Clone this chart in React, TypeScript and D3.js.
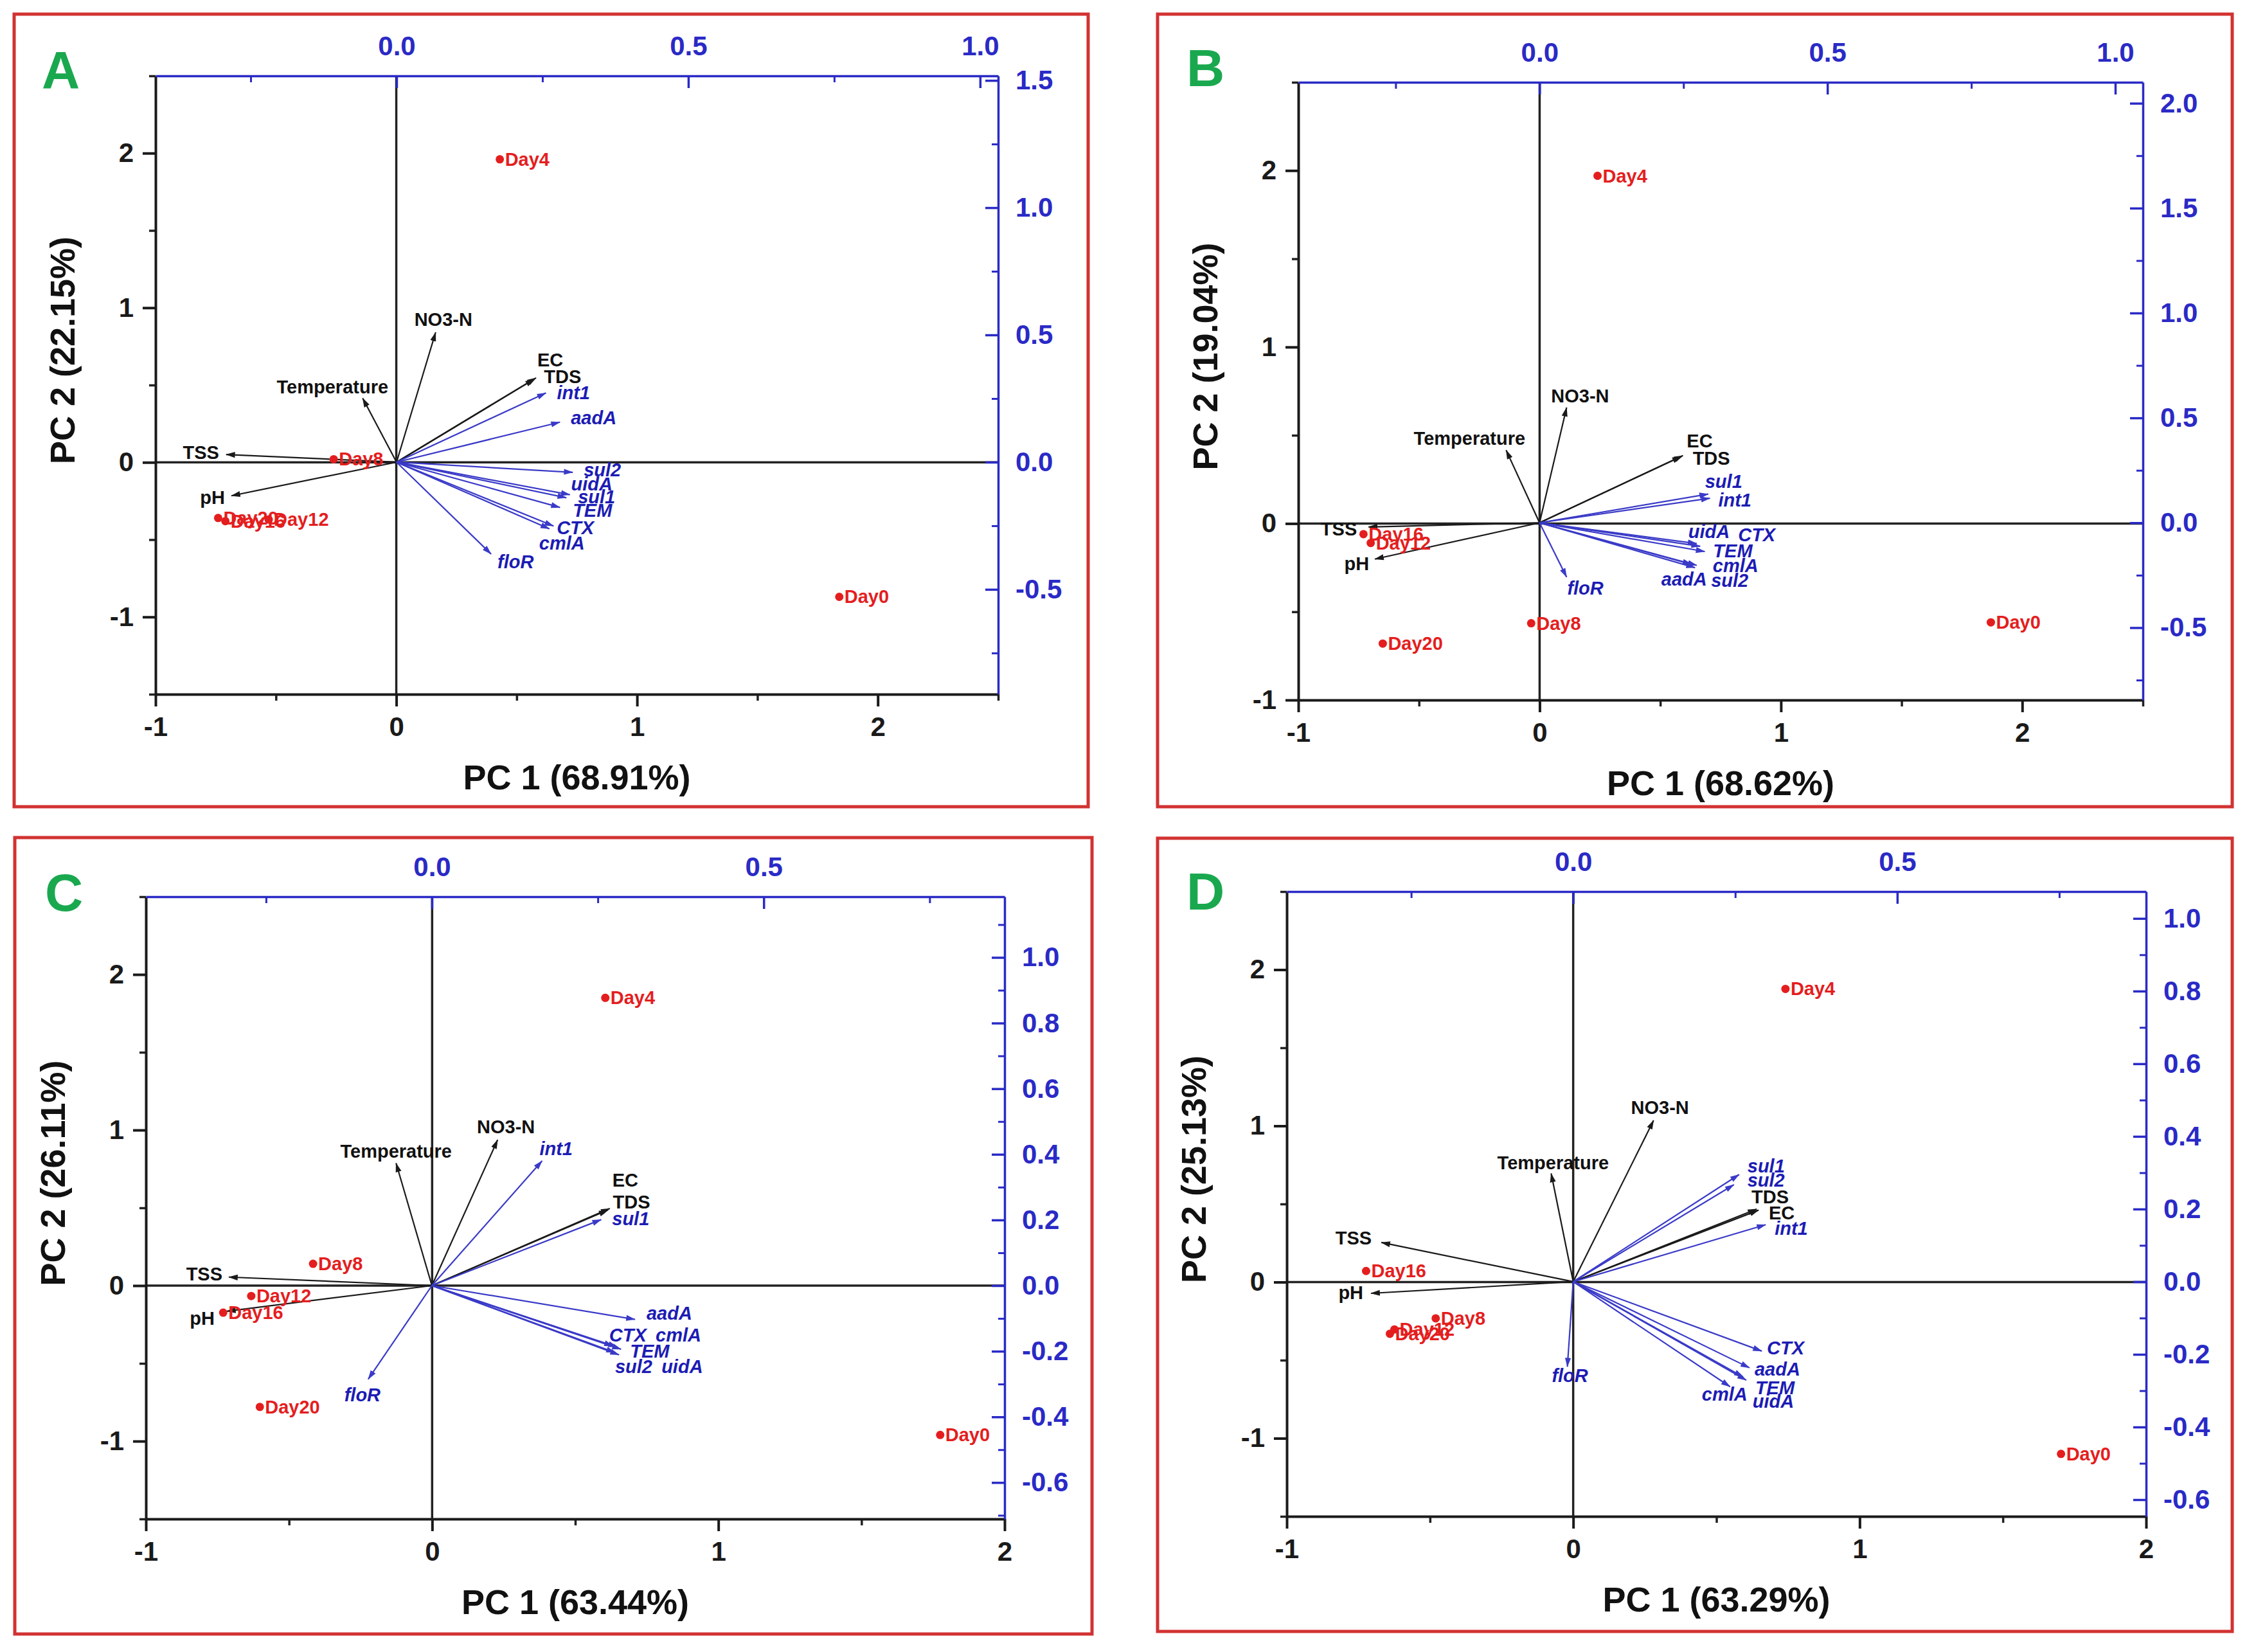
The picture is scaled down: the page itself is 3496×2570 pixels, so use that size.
import { useEffect, useRef } from 'react'
import * as d3 from 'd3'

// categories
const days = ['Day0', 'Day4', 'Day8', 'Day12', 'Day16', 'Day20']
const envVars = ['Temperature', 'NO3-N', 'TSS', 'pH', 'EC', 'TDS']
const genes = ['int1', 'sul1', 'sul2', 'aadA', 'uidA', 'TEM', 'CTX', 'cmlA', 'floR']

const panelLetters = ['A', 'B', 'C', 'D']
const pc1Titles = ['PC 1 (68.91%)', 'PC 1 (68.62%)', 'PC 1 (63.44%)', 'PC 1 (63.29%)']
const pc2Titles = ['PC 2 (22.15%)', 'PC 2 (19.04%)', 'PC 2 (26.11%)', 'PC 2 (25.13%)']

// sample scores [PC1, PC2], in order of days
const scoresA = [[1.84, -0.87], [0.43, 1.96], [-0.26, 0.02], [-0.53, -0.37], [-0.71, -0.38], [-0.74, -0.36]]
const scoresB = [[1.87, -0.56], [0.24, 1.97], [-0.035, -0.565], [-0.70, -0.11], [-0.73, -0.06], [-0.65, -0.68]]
const scoresC = [[1.775, -0.96], [0.605, 1.85], [-0.416, 0.14], [-0.632, -0.067], [-0.73, -0.174], [-0.602, -0.78]]
const scoresD = [[1.703, -1.10], [0.741, 1.877], [-0.48, -0.232], [-0.624, -0.303], [-0.723, 0.071], [-0.64, -0.331]]

// loadings [PC1, PC2], in order of envVars
const envLoadA = [[-0.058, 0.251], [0.067, 0.51], [-0.292, 0.03], [-0.283, -0.132], [0.239, 0.331], [0.236, 0.326]]
const envLoadB = [[-0.058, 0.346], [0.047, 0.549], [-0.297, -0.02], [-0.286, -0.173], [0.249, 0.32], [0.246, 0.316]]
const envLoadC = [[-0.054, 0.373], [0.099, 0.444], [-0.306, 0.026], [-0.309, -0.078], [0.268, 0.235], [0.265, 0.23]]
const envLoadD = [[-0.034, 0.298], [0.124, 0.444], [-0.296, 0.108], [-0.312, -0.032], [0.286, 0.197], [0.283, 0.2]]

// loadings [PC1, PC2], in order of genes
const geneLoadA = [[0.256, 0.272], [0.291, -0.14], [0.302, -0.04], [0.28, 0.157], [0.297, -0.128], [0.28, -0.178], [0.269, -0.251], [0.262, -0.262], [0.162, -0.361]]
const geneLoadB = [[0.296, 0.117], [0.293, 0.137], [0.27, -0.214], [0.264, -0.198], [0.273, -0.099], [0.287, -0.137], [0.279, -0.112], [0.273, -0.203], [0.047, -0.259]]
const geneLoadC = [[0.166, 0.38], [0.255, 0.201], [0.276, -0.204], [0.306, -0.103], [0.282, -0.211], [0.285, -0.194], [0.273, -0.184], [0.279, -0.187], [-0.096, -0.285]]
const geneLoadD = [[0.297, 0.157], [0.256, 0.295], [0.248, 0.267], [0.272, -0.237], [0.262, -0.262], [0.267, -0.271], [0.291, -0.191], [0.242, -0.289], [-0.009, -0.234]]

// axis ranges and tick labels
const pc1DomainAB = [-1, 2.5]
const pc1DomainCD = [-1, 2]
const pc2DomainA = [-1.5, 2.5]
const pc2DomainB = [-1, 2.5]
const pc2DomainCD = [-1.5, 2.5]
const loadXDomains = [[-0.413, 1.031], [-0.419, 1.048], [-0.431, 0.863], [-0.442, 0.884]]
const loadYDomains = [[-0.912, 1.518], [-0.845, 2.1], [-0.711, 1.185], [-0.646, 1.074]]

const scoreTicks = [-1, 0, 1, 2]
const topTicksAB = [0, 0.5, 1.0]
const topTicksCD = [0, 0.5]
const rightTicksA = [-0.5, 0, 0.5, 1.0, 1.5]
const rightTicksB = [-0.5, 0, 0.5, 1.0, 1.5, 2.0]
const rightTicksCD = [-0.6, -0.4, -0.2, 0, 0.2, 0.4, 0.6, 0.8, 1.0]

// layout (pixels): border box, plot frame, letter position
const layout = [
  { border: [22, 22, 1693, 1255], frame: [242, 118, 1553, 1080], letter: [65, 137] },
  { border: [1801, 22, 3473, 1255], frame: [2020, 128, 3334, 1089], letter: [1846, 134] },
  { border: [23, 1303, 1699, 2542], frame: [227, 1395, 1563, 2363], letter: [70, 1417] },
  { border: [1801, 1304, 3473, 2538], frame: [2002, 1387, 3339, 2359], letter: [1846, 1415] },
]

// label nudges from arrow tip: [dx, dy, anchor]
type Nudge = [number, number, string?]
const nudges: Record<string, Nudge>[] = [
  {
    'NO3-N': [12, -10, 'middle'], Temperature: [-47, -8, 'middle'], EC: [2, -18], TDS: [15, 6],
    int1: [17, 10], aadA: [17, 3], sul2: [17, 6], uidA: [2, -7], sul1: [18, 9], TEM: [20, 15],
    CTX: [5, 13], cmlA: [-16, 32], floR: [10, 22], TSS: [-11, 7, 'end'], pH: [-10, 13, 'end'],
  },
  {
    'NO3-N': [21, -8, 'middle'], Temperature: [-57, -8, 'middle'], EC: [6, -13], TDS: [18, 13],
    sul1: [-5, -10], int1: [13, 13], uidA: [-13, -9], CTX: [59, -8], TEM: [13, 9], cmlA: [25, 10],
    aadA: [24, 33, 'end'], sul2: [25, 30], floR: [1, 27], TSS: [-18, 13, 'end'], pH: [-9, 17, 'end'],
  },
  {
    'NO3-N': [13, -10, 'middle'], Temperature: [0, -9, 'middle'], int1: [-4, -9], EC: [4, -34],
    TDS: [8, -3], sul1: [17, 9], aadA: [18, 0], CTX: [-6, -7], cmlA: [60, -8], TEM: [14, 13],
    sul2: [0, 32], uidA: [66, 28], floR: [-9, 34, 'middle'], TSS: [-10, 5, 'end'], pH: [-19, 21, 'end'],
  },
  {
    'NO3-N': [10, -10, 'middle'], Temperature: [3, -7, 'middle'], sul1: [13, -3], sul2: [21, 3],
    TDS: [-8, -9], EC: [16, 14], int1: [14, 16], TSS: [-15, 3, 'end'], pH: [-12, 9, 'end'],
    CTX: [8, 5], aadA: [8, 12], TEM: [14, 22], uidA: [15, 48], cmlA: [27, 22, 'end'], floR: [4, 24, 'middle'],
  },
]

const FONT = '"Liberation Sans", Arial, sans-serif'
const RED = '#e41e1e'
const FRAME_RED = '#d23232'
const GREEN = '#1aa84f'
const BLUE_AXIS = '#2a2ac6'
const BLUE_ARROW = '#3a3ac8'
const BLUE_TEXT = '#1c1cb4'

// plain hyphen minus, like the original
const fmtInt = (d: d3.NumberValue) => d3.format('d')(d).replace('\u2212', '-')
const fmtOne = (d: d3.NumberValue) => d3.format('.1f')(d).replace('\u2212', '-')

function minorTicks(majors: number[], domain: number[]) {
  const step = majors[1] - majors[0]
  const out: number[] = []
  for (let v = majors[0] - step * 2; v <= majors[majors.length - 1] + step * 2; v += step / 2) {
    const r = Math.round(v * 1000) / 1000
    if (r < domain[0] - 1e-6 || r > domain[1] + 1e-6) continue
    if (majors.some(m => Math.abs(m - r) < 1e-6)) continue
    out.push(r)
  }
  return out
}

export default function App() {
  const svgRef = useRef<SVGSVGElement>(null)

  useEffect(() => {
    document.body.style.margin = '0'
    if (!svgRef.current) return

    const svg = d3.select(svgRef.current)
    svg.selectAll('*').remove()

    svg.append('rect').attr('width', 3496).attr('height', 2570).attr('fill', '#fff')

    // arrowheads
    const defs = svg.append('defs')
    ;[['arrow-black', '#1a1a1a'], ['arrow-blue', BLUE_ARROW]].forEach(([id, color]) => {
      defs.append('marker')
        .attr('id', id)
        .attr('viewBox', '0 0 16 12')
        .attr('refX', 15)
        .attr('refY', 6)
        .attr('markerWidth', 15)
        .attr('markerHeight', 11)
        .attr('markerUnits', 'userSpaceOnUse')
        .attr('orient', 'auto')
        .append('path')
        .attr('d', 'M0,1 L16,6 L0,11 Z')
        .attr('fill', color)
    })

    const panels = [
      { scores: scoresA, env: envLoadA, gene: geneLoadA, pc1: pc1DomainAB, pc2: pc2DomainA, top: topTicksAB, right: rightTicksA },
      { scores: scoresB, env: envLoadB, gene: geneLoadB, pc1: pc1DomainAB, pc2: pc2DomainB, top: topTicksAB, right: rightTicksB },
      { scores: scoresC, env: envLoadC, gene: geneLoadC, pc1: pc1DomainCD, pc2: pc2DomainCD, top: topTicksCD, right: rightTicksCD },
      { scores: scoresD, env: envLoadD, gene: geneLoadD, pc1: pc1DomainCD, pc2: pc2DomainCD, top: topTicksCD, right: rightTicksCD },
    ]

    panels.forEach((p, i) => {
      const L = layout[i]
      const [fx0, fy0, fx1, fy1] = L.frame
      const [bx0, by0, bx1, by1] = L.border
      const nudge = nudges[i]

      const x = d3.scaleLinear().domain(p.pc1).range([fx0, fx1])
      const y = d3.scaleLinear().domain(p.pc2).range([fy1, fy0])
      const lx = d3.scaleLinear().domain(loadXDomains[i]).range([fx0, fx1])
      const ly = d3.scaleLinear().domain(loadYDomains[i]).range([fy1, fy0])

      const g = svg.append('g')

      // panel border
      g.append('rect')
        .attr('x', bx0).attr('y', by0)
        .attr('width', bx1 - bx0).attr('height', by1 - by0)
        .attr('fill', 'none')
        .attr('stroke', FRAME_RED)
        .attr('stroke-width', 5)

      // panel letter
      g.append('text')
        .attr('x', L.letter[0]).attr('y', L.letter[1])
        .attr('fill', GREEN)
        .attr('font-family', FONT)
        .attr('font-weight', 'bold')
        .attr('font-size', 82)
        .text(panelLetters[i])

      // zero lines
      g.append('line')
        .attr('x1', fx0).attr('x2', fx1)
        .attr('y1', y(0)).attr('y2', y(0))
        .attr('stroke', '#222').attr('stroke-width', 3.5)
      g.append('line')
        .attr('x1', x(0)).attr('x2', x(0))
        .attr('y1', fy0).attr('y2', fy1)
        .attr('stroke', '#222').attr('stroke-width', 3.5)

      const styleAxis = (sel: d3.Selection<SVGGElement, unknown, null, undefined>, color: string, width: number) => {
        sel.attr('color', color)
        sel.select('.domain').attr('stroke-width', width)
        sel.selectAll('.tick line').attr('stroke-width', width)
        sel.selectAll('.tick text')
          .attr('font-family', FONT)
          .attr('font-weight', 'bold')
          .attr('font-size', 42)
      }

      // minor ticks first
      const minor = (axis: d3.Axis<d3.NumberValue>, tx: number, ty: number, color: string, width: number) => {
        const m = g.append('g').attr('transform', `translate(${tx},${ty})`).call(axis)
        m.attr('color', color)
        m.select('.domain').remove()
        m.selectAll('.tick line').attr('stroke-width', width)
        m.selectAll('.tick text').remove()
      }
      minor(d3.axisBottom(x).tickValues(minorTicks(scoreTicks, p.pc1)).tickSize(10), 0, fy1, '#222', 3.5)
      minor(d3.axisLeft(y).tickValues(minorTicks(scoreTicks, p.pc2)).tickSize(10), fx0, 0, '#222', 3.5)
      minor(d3.axisTop(lx).tickValues(minorTicks(p.top, loadXDomains[i])).tickSize(-10), 0, fy0, BLUE_AXIS, 3)
      minor(d3.axisRight(ly).tickValues(minorTicks(p.right, loadYDomains[i])).tickSize(-10), fx1, 0, BLUE_AXIS, 3)

      // main axes
      const bottom = g.append('g').attr('transform', `translate(0,${fy1})`)
        .call(d3.axisBottom(x).tickValues(scoreTicks).tickSize(19).tickSizeOuter(0).tickPadding(16).tickFormat(fmtInt))
      styleAxis(bottom, '#1a1a1a', 4)

      const left = g.append('g').attr('transform', `translate(${fx0},0)`)
        .call(d3.axisLeft(y).tickValues(scoreTicks.filter(t => t >= p.pc2[0] && t <= p.pc2[1])).tickSize(20).tickSizeOuter(0).tickPadding(14).tickFormat(fmtInt))
      styleAxis(left, '#1a1a1a', 4)

      const top = g.append('g').attr('transform', `translate(0,${fy0})`)
        .call(d3.axisTop(lx).tickValues(p.top).tickSize(-19).tickSizeOuter(0).tickPadding(32).tickFormat(fmtOne))
      styleAxis(top, BLUE_AXIS, 3.5)

      const right = g.append('g').attr('transform', `translate(${fx1},0)`)
        .call(d3.axisRight(ly).tickValues(p.right).tickSize(-20).tickSizeOuter(0).tickPadding(27).tickFormat(fmtOne))
      styleAxis(right, BLUE_AXIS, 3.5)

      // axis titles
      g.append('text')
        .attr('x', (fx0 + fx1) / 2)
        .attr('y', fy1 + 148)
        .attr('text-anchor', 'middle')
        .attr('font-family', FONT)
        .attr('font-weight', 'bold')
        .attr('font-size', 54)
        .attr('fill', '#111')
        .text(pc1Titles[i])

      g.append('text')
        .attr('transform', `translate(${fx0 - 126},${(fy0 + fy1) / 2 - 54}) rotate(-90)`)
        .attr('text-anchor', 'middle')
        .attr('font-family', FONT)
        .attr('font-weight', 'bold')
        .attr('font-size', 54)
        .attr('fill', '#111')
        .text(pc2Titles[i])

      // loading vectors
      const vectors = [
        ...envVars.map((name, k) => ({ name, v: p.env[k], gene: false })),
        ...genes.map((name, k) => ({ name, v: p.gene[k], gene: true })),
      ]

      const ox = lx(0)
      const oy = ly(0)

      g.append('g')
        .selectAll('line')
        .data(vectors)
        .join('line')
        .attr('x1', ox).attr('y1', oy)
        .attr('x2', d => lx(d.v[0]))
        .attr('y2', d => ly(d.v[1]))
        .attr('stroke', d => (d.gene ? BLUE_ARROW : '#1a1a1a'))
        .attr('stroke-width', 2.2)
        .attr('marker-end', d => (d.gene ? 'url(#arrow-blue)' : 'url(#arrow-black)'))

      g.append('g')
        .selectAll('text')
        .data(vectors)
        .join('text')
        .attr('x', d => lx(d.v[0]) + (nudge[d.name] ? nudge[d.name][0] : 14))
        .attr('y', d => ly(d.v[1]) + (nudge[d.name] ? nudge[d.name][1] : 9))
        .attr('text-anchor', d => (nudge[d.name] && nudge[d.name][2]) || 'start')
        .attr('font-family', FONT)
        .attr('font-weight', 'bold')
        .attr('font-style', d => (d.gene ? 'italic' : 'normal'))
        .attr('font-size', 29)
        .attr('fill', d => (d.gene ? BLUE_TEXT : '#111'))
        .text(d => d.name)

      // sample scores
      const pts = days.map((name, k) => ({ name, s: p.scores[k] }))
      const pg = g.append('g')
      pg.selectAll('circle')
        .data(pts)
        .join('circle')
        .attr('cx', d => x(d.s[0]))
        .attr('cy', d => y(d.s[1]))
        .attr('r', 6.5)
        .attr('fill', RED)

      pg.selectAll('text')
        .data(pts)
        .join('text')
        .attr('x', d => x(d.s[0]) + 8)
        .attr('y', d => y(d.s[1]) + 10)
        .attr('font-family', FONT)
        .attr('font-weight', 'bold')
        .attr('font-size', 29)
        .attr('fill', RED)
        .text(d => d.name)
    })
  }, [])

  return (
    <div>
      <svg ref={svgRef} width={3496} height={2570} style={{ display: 'block' }}></svg>
    </div>
  )
}
